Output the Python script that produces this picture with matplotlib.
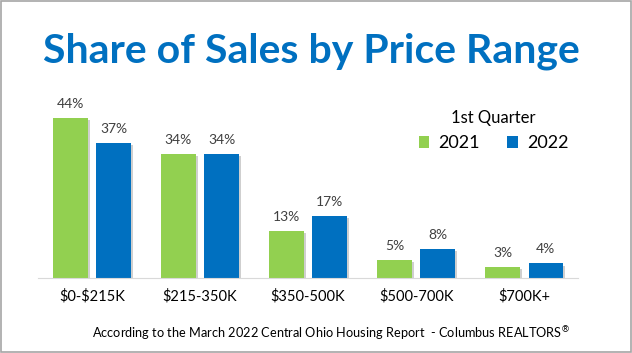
import matplotlib.pyplot as plt
import matplotlib.patheffects as pe
import numpy as np
from matplotlib.patches import Rectangle

categories = ['\\$0-\\$215K', '\\$215-350K', '\\$350-500K', '\\$500-700K', '\\$700K+']
share_2021 = [44, 34, 13, 5, 3]
share_2022 = [37, 34, 17, 8, 4]

green = '#92D050'
blue = '#0070C0'

plt.rcParams['font.family'] = ['Lato', 'DejaVu Sans']

fig = plt.figure(figsize=(6.32, 3.53), dpi=100)
ax = fig.add_axes([0.06, 0.2125, 0.855, 0.5156])

x = np.arange(len(categories))
w = 0.32
shadow = [pe.SimplePatchShadow(offset=(1.5, -1.5), shadow_rgbFace='#b0b0b0', alpha=0.6), pe.Normal()]

b1 = ax.bar(x - 0.2, share_2021, w, color=green, label='2021', path_effects=shadow)
b2 = ax.bar(x + 0.2, share_2022, w, color=blue, label='2022', path_effects=shadow)

for bars in (b1, b2):
    for rect in bars:
        h = rect.get_height()
        ax.text(rect.get_x() + rect.get_width() / 2, h + 2.2, f'{h:.0f}%',
                ha='center', va='bottom', fontsize=10, color='#404040')

ax.set_xlim(-0.5, 4.5)
ax.set_ylim(0, 50)
ax.set_xticks(x)
ax.set_xticklabels(categories, fontsize=10.5, color='black')
ax.tick_params(axis='x', length=0, pad=8)
ax.set_yticks([])
for s in ['top', 'right', 'left']:
    ax.spines[s].set_visible(False)
ax.spines['bottom'].set_color('#d9d9d9')

leg = ax.legend(title='1st Quarter', ncol=2, frameon=False, fontsize=13,
                title_fontsize=12, loc='upper right', bbox_to_anchor=(1.005, 0.99),
                handlelength=0.6, handleheight=0.6, handletextpad=0.5, columnspacing=1.5,
                borderpad=0.2)
for h in leg.legend_handles:
    h.set_path_effects([])

fig.text(0.493, 0.855, 'Share of Sales by Price Range', ha='center', va='center',
         fontsize=29.5, fontweight='bold', color=blue)
fig.text(0.524, 0.055, 'According to the March 2022 Central Ohio Housing Report  - Columbus REALTORS$^{®}$',
         ha='center', va='center', fontsize=9.2, color='black')

fig.patches.append(Rectangle((0.001, 0.002), 0.997, 0.995, transform=fig.transFigure,
                             fill=False, edgecolor='#a6a6a6', linewidth=1.2))

fig.savefig('out.png', dpi=100)
